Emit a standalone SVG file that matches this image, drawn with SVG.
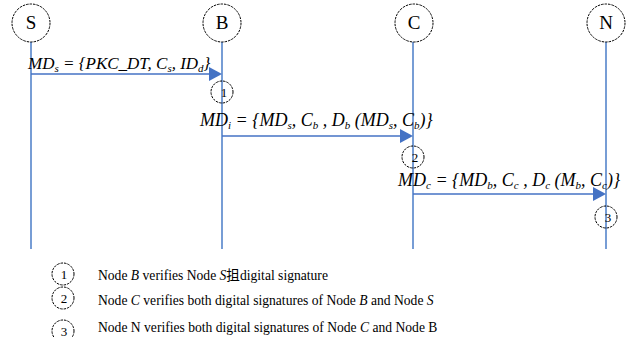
<svg xmlns="http://www.w3.org/2000/svg" width="638" height="345" viewBox="0 0 638 345">
<defs>
<style>
.node{fill:#fff;stroke:#000;stroke-width:1;stroke-dasharray:2.5 1}
.nl{font-family:"Liberation Serif",serif;font-size:19px;text-anchor:middle;fill:#000}
.life{stroke:#4A7CC7;stroke-width:1.5;fill:none}
.msg{stroke:#4472C4;stroke-width:1.5;fill:none}
.lab{font-family:"Liberation Serif",serif;font-size:17px;font-style:italic;fill:#000}
.lab2{font-family:"Liberation Serif",serif;font-size:18px;font-style:italic;fill:#000}
.sub{font-size:11px}
.mk{fill:none;stroke:#000;stroke-width:1;stroke-dasharray:2.5 1}
.mn{font-family:"Liberation Serif",serif;font-size:13px;text-anchor:middle;fill:#000}
.lg{font-family:"Liberation Serif","Noto Sans CJK SC",serif;font-size:13.6px;fill:#000}
</style>
<clipPath id="cp3"><rect x="40" y="310" width="40" height="27"/></clipPath>
</defs>
<g id="connectors">
<line class="life" x1="31" y1="42" x2="31" y2="249"/>
<line class="life" x1="222" y1="42" x2="222" y2="249"/>
<line class="life" x1="413" y1="42" x2="413" y2="249"/>
<line class="life" x1="606" y1="42" x2="606" y2="249"/>
<line class="msg" x1="31" y1="74" x2="210" y2="74"/>
<path d="M209,67 L222,74 L209,81 z" fill="#4472C4"/>
<line class="msg" x1="222" y1="136" x2="401" y2="136"/>
<path d="M400,129 L413,136 L400,143 z" fill="#4472C4"/>
<line class="msg" x1="413" y1="194" x2="594" y2="194"/>
<path d="M593,187 L606,194 L593,201 z" fill="#4472C4"/>
</g>
<g id="label-1"><text class="lab" x="28" y="69">MD<tspan class="sub" dy="3">s</tspan><tspan dy="-3"> = {PKC_DT, C</tspan><tspan class="sub" dy="3">s</tspan><tspan dy="-3">, ID</tspan><tspan class="sub" dy="3">d</tspan><tspan dy="-3">}</tspan></text></g>
<g id="label-2"><text class="lab2" x="200" y="126">MD<tspan class="sub" dy="3">i</tspan><tspan dy="-3"> = {MD</tspan><tspan class="sub" dy="3">s</tspan><tspan dy="-3">, C</tspan><tspan class="sub" dy="3">b</tspan><tspan dy="-3"> , D</tspan><tspan class="sub" dy="3">b</tspan><tspan dy="-3"> (MD</tspan><tspan class="sub" dy="3">s</tspan><tspan dy="-3">, C</tspan><tspan class="sub" dy="3">b</tspan><tspan dy="-3">)}</tspan></text></g>
<g id="label-3"><text class="lab2" x="398" y="186">MD<tspan class="sub" dy="3">c</tspan><tspan dy="-3"> = {MD</tspan><tspan class="sub" dy="3">b</tspan><tspan dy="-3">, C</tspan><tspan class="sub" dy="3">c</tspan><tspan dy="-3"> , D</tspan><tspan class="sub" dy="3">c</tspan><tspan dy="-3"> (M</tspan><tspan class="sub" dy="3">b</tspan><tspan dy="-3">, C</tspan><tspan class="sub" dy="3">c</tspan><tspan dy="-3">)}</tspan></text></g>
<g id="node-S"><circle class="node" cx="31" cy="23" r="19"/><text class="nl" x="31" y="29">S</text></g>
<g id="node-B"><circle class="node" cx="222" cy="23" r="19"/><text class="nl" x="222" y="29">B</text></g>
<g id="node-C"><circle class="node" cx="414" cy="23" r="19"/><text class="nl" x="414" y="29">C</text></g>
<g id="node-N"><circle class="node" cx="606" cy="23" r="19"/><text class="nl" x="606" y="29">N</text></g>
<g id="step-1"><circle class="mk" cx="222" cy="92" r="11"/><text class="mn" x="224" y="97">1</text></g>
<g id="step-2"><circle class="mk" cx="413" cy="157" r="11"/><text class="mn" x="415" y="162">2</text></g>
<g id="step-3"><circle class="mk" cx="606" cy="217" r="11"/><text class="mn" x="608" y="222">3</text></g>
<g id="legend-1"><circle class="mk" cx="63" cy="274" r="11"/><text class="mn" x="64" y="279">1</text><text class="lg" x="98" y="280">Node <tspan font-style="italic">B</tspan> verifies Node <tspan font-style="italic">S</tspan>抯digital signature</text></g>
<g id="legend-2"><circle class="mk" cx="63" cy="298" r="11"/><text class="mn" x="64" y="303">2</text><text class="lg" x="98" y="305">Node <tspan font-style="italic">C</tspan> verifies both digital signatures of Node <tspan font-style="italic">B</tspan> and Node <tspan font-style="italic">S</tspan></text></g>
<g id="legend-3"><g clip-path="url(#cp3)"><circle class="mk" cx="63" cy="331" r="11"/><text class="mn" x="64" y="336">3</text></g><text class="lg" x="98" y="332">Node N verifies both digital signatures of Node <tspan font-style="italic">C</tspan> and Node B</text></g>
</svg>
